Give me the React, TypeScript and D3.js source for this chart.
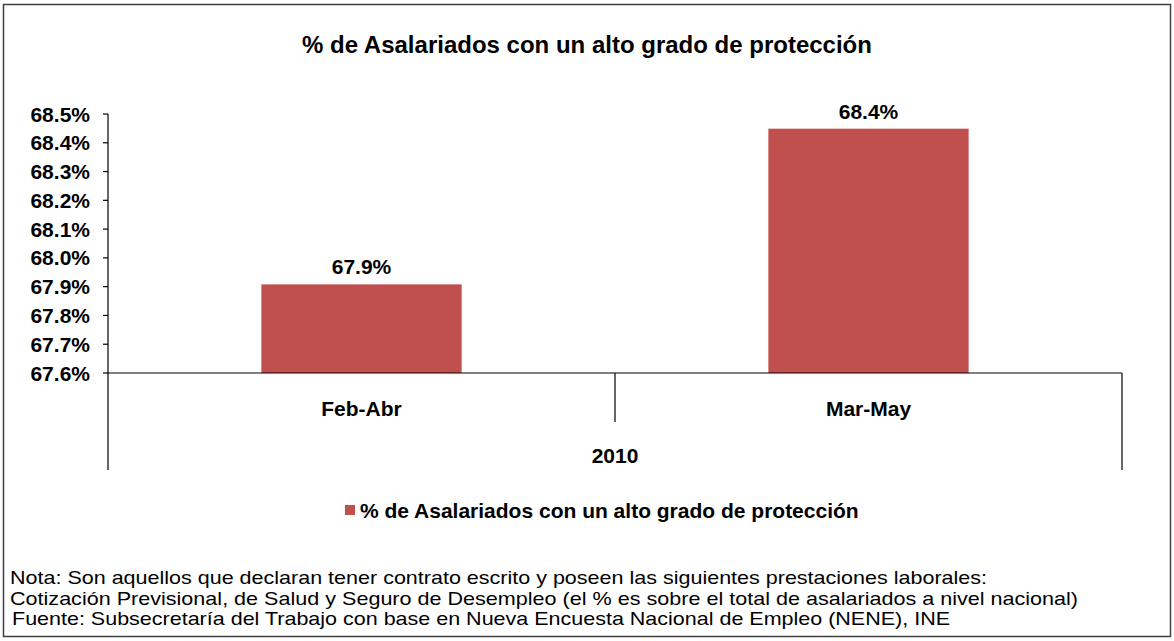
import React from "react";
import * as d3 from "d3";

const title = "% de Asalariados con un alto grado de protección";
const categories = ["Feb-Abr", "Mar-May"];
const groupLabel = "2010";
const values = [67.908, 68.449];
const valueLabels = ["67.9%", "68.4%"];
const yTicks = [67.6, 67.7, 67.8, 67.9, 68.0, 68.1, 68.2, 68.3, 68.4, 68.5];
const seriesName = "% de Asalariados con un alto grado de protección";
const notes = [
  "Nota: Son aquellos que declaran tener contrato escrito y poseen las siguientes prestaciones laborales:",
  "Cotización Previsional, de Salud y Seguro de Desempleo (el % es sobre el total de asalariados a nivel nacional)",
];
const source = "Fuente: Subsecretaría del Trabajo con base en Nueva Encuesta Nacional de Empleo (NENE), INE";

const W = 1174;
const H = 641;
const FONT = "'Liberation Sans', Arial, sans-serif";
const BAR = "#C0504D";

export default function App() {
  const left = 108;
  const right = 1122;
  const top = 114;
  const bottom = 373;
  const x = d3.scaleBand<string>().domain(categories).range([left, right]).paddingInner(0).paddingOuter(0);
  const y = d3.scaleLinear().domain([67.6, 68.5]).range([bottom, top]);
  const barW = x.bandwidth() * 0.395;

  return (
    <svg width={W} height={H} style={{ position: "absolute", left: 0, top: 0, background: "#fff" }} fontFamily={FONT}>
      <rect x={3.5} y={4.5} width={1167} height={632} fill="#fff" stroke="#404040" strokeWidth={1.5} />
      <text x={587} y={53} textAnchor="middle" fontSize={24} fontWeight="bold">{title}</text>

      {categories.map((c, i) => {
        const cx = (x(c) as number) + x.bandwidth() / 2;
        return (
          <g key={c}>
            <rect x={cx - barW / 2} y={y(values[i])} width={barW} height={bottom - y(values[i])} fill={BAR} />
            <text x={cx} y={y(values[i]) - 10} textAnchor="middle" fontSize={21} fontWeight="bold">{valueLabels[i]}</text>
            <text x={cx} y={415.5} textAnchor="middle" fontSize={21} fontWeight="bold">{c}</text>
          </g>
        );
      })}

      {/* y axis */}
      <line x1={left} x2={left} y1={top} y2={470} stroke="#000" strokeWidth={1.2} />
      {yTicks.map((t) => (
        <g key={t}>
          <line x1={left - 5} x2={left} y1={y(t)} y2={y(t)} stroke="#000" strokeWidth={1.2} />
          <text x={90} y={y(t) + 7.5} textAnchor="end" fontSize={21} fontWeight="bold">{d3.format(".1f")(t)}%</text>
        </g>
      ))}

      {/* x axis */}
      <line x1={left} x2={right} y1={bottom} y2={bottom} stroke="#000" strokeWidth={1.2} />
      <line x1={right} x2={right} y1={bottom} y2={470} stroke="#000" strokeWidth={1.2} />
      <line x1={(x(categories[1]) as number)} x2={(x(categories[1]) as number)} y1={bottom} y2={422} stroke="#000" strokeWidth={1.2} />
      <text x={(left + right) / 2} y={462.5} textAnchor="middle" fontSize={21} fontWeight="bold">{groupLabel}</text>

      {/* legend */}
      <rect x={345} y={505} width={10} height={10} fill={BAR} />
      <text x={360} y={517.5} fontSize={21} fontWeight="bold">{seriesName}</text>

      {/* notes */}
      <text x={10} y={584} fontSize={19} textLength={977} lengthAdjust="spacingAndGlyphs">{notes[0]}</text>
      <text x={10} y={605} fontSize={19} textLength={1068} lengthAdjust="spacingAndGlyphs">{notes[1]}</text>
      <text x={12} y={625} fontSize={19} textLength={938} lengthAdjust="spacingAndGlyphs">{source}</text>
    </svg>
  );
}
